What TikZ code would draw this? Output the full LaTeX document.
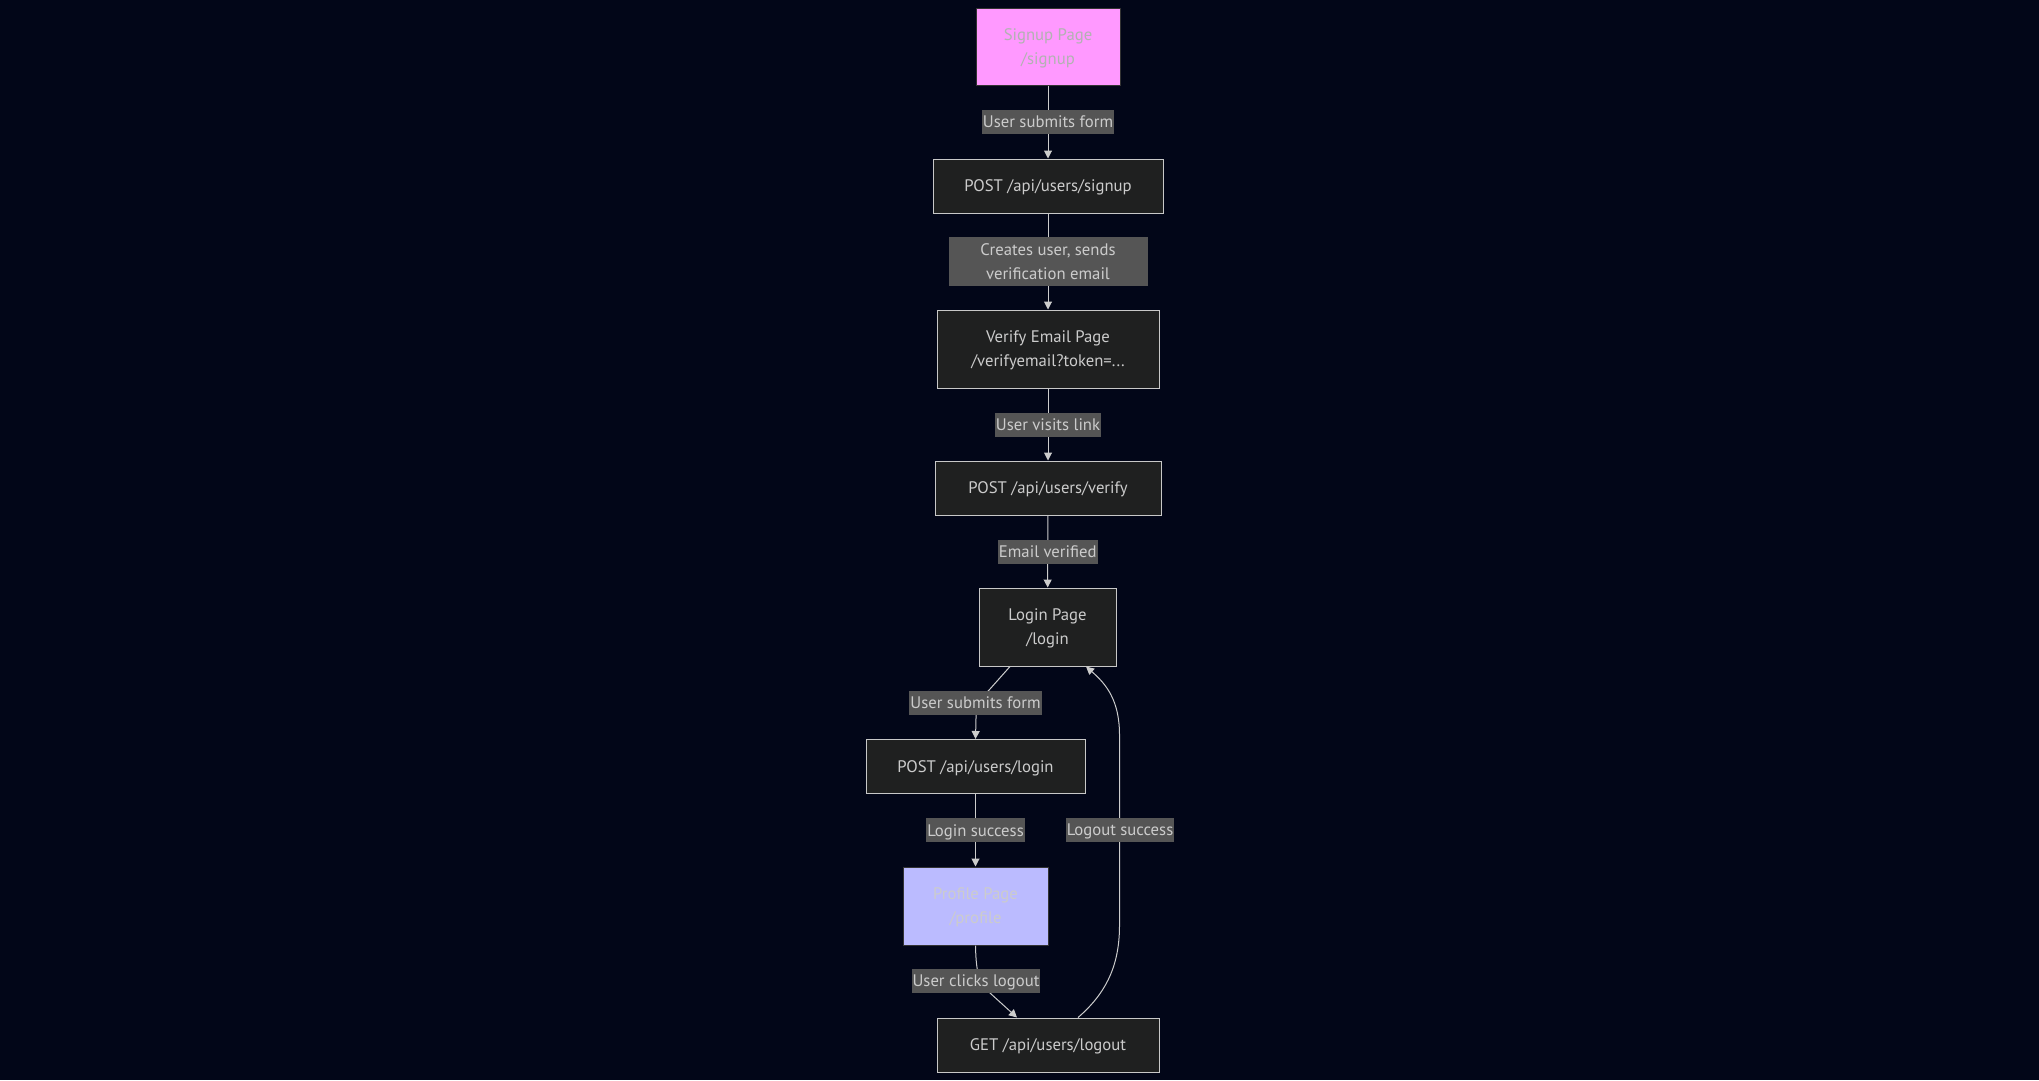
\documentclass[tikz,border=0pt]{standalone}
\usepackage{fontspec}
\setmainfont{PT Sans}
\usetikzlibrary{arrows.meta,calc}
\definecolor{bg}{HTML}{020618}
\definecolor{boxfill}{HTML}{1F2020}
\definecolor{boxline}{HTML}{C8C8C8}
\definecolor{txt}{HTML}{CCCCCC}
\definecolor{lblfill}{HTML}{555555}
\definecolor{pinkfill}{HTML}{FF99FF}
\definecolor{lilacfill}{HTML}{BBBBFF}
\definecolor{darkline}{HTML}{333333}
\begin{document}
\begin{tikzpicture}[x=1pt,y=-1pt,
  every node/.style={font=\fontsize{16.7}{24}\selectfont, align=center, inner sep=0pt, text depth=0pt},
  oneline/.style={text height=11.7pt},
  box/.style={draw=boxline, line width=1pt, fill=boxfill, text=txt},
  pagebox/.style={draw=darkline, line width=1pt},
  lbl/.style={fill=lblfill, text=txt, inner sep=1pt},
  edge/.style={draw=txt, line width=1pt, -{Triangle[length=8pt,width=8pt]}}
]
\fill[bg] (0,0) rectangle (2039,1080);
\useasboundingbox (0,0) rectangle (2039,1080);

% pages and API calls
\node[pagebox, fill=pinkfill, text=black!30, minimum width=144pt, minimum height=77pt] (signup) at (1048,46.5) {Signup Page\\/signup};
\node[box, oneline, minimum width=230pt, minimum height=54pt] (postSignup) at (1048,186) {POST /api/users/signup};
\node[box, minimum width=222pt, minimum height=78pt] (verify) at (1048,349) {Verify Email Page\\/verifyemail?token=...};
\node[box, oneline, minimum width=226pt, minimum height=54pt] (postVerify) at (1048,488) {POST /api/users/verify};
\node[box, minimum width=137pt, minimum height=78pt] (login) at (1047.5,627) {Login Page\\/login};
\node[box, oneline, minimum width=219pt, minimum height=54pt] (postLogin) at (975.5,766.5) {POST /api/users/login};
\node[pagebox, fill=lilacfill, text=black!20, minimum width=145pt, minimum height=78pt] (profile) at (975.5,906) {Profile Page\\/profile};
\node[box, oneline, minimum width=222pt, minimum height=54pt] (logout) at (1048,1045) {GET /api/users/logout};

% straight flow
\draw[edge] (signup) -- node[lbl, oneline, minimum width=129pt, minimum height=24pt] {User submits form} (postSignup);
\draw[edge] (postSignup) -- node[lbl, minimum width=199pt, minimum height=49pt] {Creates user, sends\\verification email} (verify);
\draw[edge] (verify) -- node[lbl, oneline, minimum width=104pt, minimum height=24pt] {User visits link} (postVerify);
\draw[edge] (postVerify) -- node[lbl, oneline, minimum width=100pt, minimum height=24pt] {Email verified} (login);
\draw[edge] (postLogin) -- node[lbl, oneline, minimum width=96pt, minimum height=24pt] {Login success} (profile);

% curved flow
\draw[edge] ($(login.south)+(-37.5,0)$) -- (990,689) .. controls (977,703) .. (976,718) -- (postLogin.north)
  node[lbl, oneline, minimum width=129pt, minimum height=24pt] at (975.5,703) {User submits form};
\draw[edge] (profile.south) .. controls (976,975) and (980,985) .. (990,993) -- ($(logout.north)+(-31,0)$)
  node[lbl, oneline, minimum width=126pt, minimum height=24pt] at (976,981) {User clicks logout};
\draw[edge] ($(logout.north)+(30,0)$) .. controls (1110,990) and (1119.5,960) .. (1119.5,925) -- (1119.5,735)
  .. controls (1119.5,700) and (1106,684) .. ($(login.south)+(38.5,0)$)
  node[lbl, oneline, minimum width=106pt, minimum height=24pt] at (1120,830) {Logout success};
\end{tikzpicture}
\end{document}
